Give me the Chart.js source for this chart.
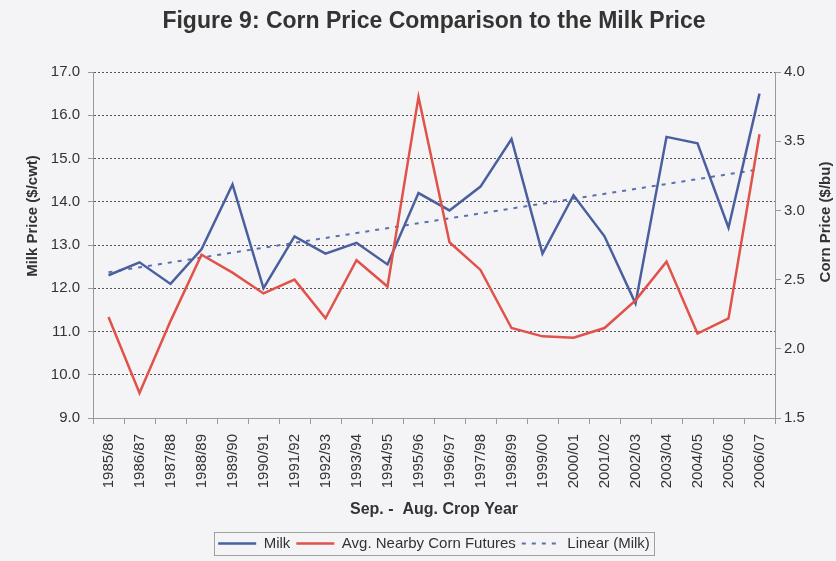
<!DOCTYPE html>
<html>
<head>
<meta charset="utf-8">
<script src="https://cdn.jsdelivr.net/npm/chart.js@4/dist/chart.umd.min.js"></script>
<style>
  html, body { margin: 0; padding: 0; background: #f4f4f6; }
  #wrap { width: 836px; height: 561px; }
</style>
</head>
<body>
<div id="wrap"><canvas id="chart" width="836" height="561"></canvas></div>
<script>
// crop years (Sep - Aug)
const cropYears = ['1985/86', '1986/87', '1987/88', '1988/89', '1989/90', '1990/91', '1991/92',
  '1992/93', '1993/94', '1994/95', '1995/96', '1996/97', '1997/98', '1998/99', '1999/00',
  '2000/01', '2001/02', '2002/03', '2003/04', '2004/05', '2005/06', '2006/07'];

// $/cwt, left axis
const milkPrice = [12.3, 12.6, 12.1, 12.9, 14.4, 12.0, 13.2, 12.8, 13.05, 12.55, 14.2,
  13.8, 14.35, 15.45, 12.8, 14.15, 13.2, 11.65, 15.5, 15.35, 13.4, 16.5];

// $/bu, right axis
const cornPrice = [2.23, 1.68, 2.2, 2.68, 2.55, 2.4, 2.5, 2.22, 2.64, 2.45, 3.82,
  2.77, 2.57, 2.15, 2.09, 2.08, 2.15, 2.35, 2.63, 2.11, 2.22, 3.55];

// linear trend of milk, read at first and last year
const milkTrend = [12.37, null, null, null, null, null, null, null, null, null, null,
  null, null, null, null, null, null, null, null, null, null, 14.75];

const milkTicks = [9, 10, 11, 12, 13, 14, 15, 16, 17];
const cornTicks = [1.5, 2.0, 2.5, 3.0, 3.5, 4.0];

const BLUE = '#4a5f9e';
const RED = '#e0524a';
const TEXT = '#333333';
const AXIS = '#9a9a9a';

Chart.defaults.font.family = '"Liberation Sans", Arial, sans-serif';
Chart.defaults.color = TEXT;

const bgPlugin = {
  id: 'bg',
  beforeDraw(chart) {
    const ctx = chart.ctx;
    ctx.save();
    ctx.fillStyle = '#f4f4f6';
    ctx.fillRect(0, 0, chart.width, chart.height);
    ctx.restore();
  }
};

// y axis titles sit a bit above the middle in the original
const sideTitles = {
  id: 'sideTitles',
  afterDraw(chart) {
    const ctx = chart.ctx;
    ctx.save();
    ctx.font = 'bold 15px "Liberation Sans", Arial, sans-serif';
    ctx.fillStyle = TEXT;
    ctx.textAlign = 'center';
    ctx.textBaseline = 'middle';
    [['Milk Price ($/cwt)', 33, 216], ['Corn Price ($/bu)', 826, 222]].forEach(t => {
      ctx.save();
      ctx.translate(t[1], t[2]);
      ctx.rotate(-Math.PI / 2);
      ctx.fillText(t[0], 0, 0);
      ctx.restore();
    });
    ctx.restore();
  }
};

// frame round the legend
const legendBox = {
  id: 'legendBox',
  afterDraw(chart) {
    const boxes = chart.legend && chart.legend.legendHitBoxes;
    if (!boxes || !boxes.length) return;
    let l = Infinity, r = -Infinity, t = Infinity, b = -Infinity;
    boxes.forEach(h => {
      l = Math.min(l, h.left); r = Math.max(r, h.left + h.width);
      t = Math.min(t, h.top); b = Math.max(b, h.top + h.height);
    });
    const ctx = chart.ctx;
    ctx.save();
    ctx.strokeStyle = '#a0a0a0';
    ctx.lineWidth = 1;
    ctx.strokeRect(Math.round(l - 4) + 0.5, Math.round(t - 4) + 0.5, Math.round(r - l + 8), Math.round(b - t + 8));
    ctx.restore();
  }
};

new Chart(document.getElementById('chart'), {
  type: 'line',
  data: {
    labels: cropYears,
    datasets: [
      {
        label: 'Milk',
        data: milkPrice,
        yAxisID: 'y',
        borderColor: BLUE,
        borderWidth: 2.5,
        pointRadius: 0,
        tension: 0,
        order: 1
      },
      {
        label: 'Avg. Nearby Corn Futures',
        data: cornPrice,
        yAxisID: 'y1',
        borderColor: RED,
        borderWidth: 2.5,
        pointRadius: 0,
        tension: 0,
        order: 0
      },
      {
        label: 'Linear (Milk)',
        data: milkTrend,
        yAxisID: 'y',
        borderColor: '#5a70ae',
        borderWidth: 2,
        borderDash: [4, 6],
        pointRadius: 0,
        spanGaps: true,
        order: 2
      }
    ]
  },
  options: {
    responsive: false,
    animation: false,
    layout: { padding: 0 },
    plugins: {
      title: {
        display: true,
        fullSize: false,
        text: 'Figure 9: Corn Price Comparison to the Milk Price',
        color: TEXT,
        font: { size: 23, weight: 'bold' },
        padding: { top: 8, bottom: 36.4 }
      },
      legend: {
        position: 'bottom',
        fullSize: false,
        labels: {
          usePointStyle: true,
          pointStyleWidth: 38,
          padding: 6,
          color: TEXT,
          font: { size: 15 },
          generateLabels(chart) {
            return chart.data.datasets.map((ds, i) => ({
              text: ds.label,
              strokeStyle: ds.borderColor,
              fillStyle: ds.borderColor,
              lineWidth: ds.borderWidth,
              lineDash: ds.borderDash || [],
              pointStyle: 'line',
              hidden: false,
              datasetIndex: i,
              fontColor: TEXT
            }));
          }
        }
      },
      tooltip: { enabled: false }
    },
    scales: {
      x: {
        type: 'category',
        offset: true,
        grid: {
          display: true,
          drawOnChartArea: false,
          drawTicks: true,
          tickLength: 6,
          color: AXIS,
          offset: true
        },
        border: { color: AXIS, width: 1 },
        ticks: {
          autoSkip: false,
          minRotation: 90,
          maxRotation: 90,
          padding: 10,
          color: TEXT,
          font: { size: 15 }
        },
        title: {
          display: true,
          text: 'Sep. -  Aug. Crop Year',
          color: TEXT,
          font: { size: 16, weight: 'bold' },
          padding: { top: 0, bottom: 11 }
        },
        afterFit(scale) { scale.height = 112; }
      },
      y: {
        position: 'left',
        min: milkTicks[0],
        max: milkTicks[milkTicks.length - 1],
        afterBuildTicks(scale) { scale.ticks = milkTicks.map(v => ({ value: v })); },
        grid: {
          color: '#555555',
          tickColor: AXIS,
          tickLength: 5,
          lineWidth: 1
        },
        border: { color: AXIS, width: 1, dash: [2, 2] },
        ticks: {
          padding: 8,
          color: TEXT,
          font: { size: 15 },
          callback: v => Number(v).toFixed(1)
        },
        afterFit(scale) { scale.width = 93; }
      },
      y1: {
        position: 'right',
        min: cornTicks[0],
        max: cornTicks[cornTicks.length - 1],
        afterBuildTicks(scale) { scale.ticks = cornTicks.map(v => ({ value: v })); },
        grid: {
          drawOnChartArea: false,
          color: AXIS,
          tickLength: 6
        },
        border: { color: AXIS, width: 1 },
        ticks: {
          padding: 3,
          color: TEXT,
          font: { size: 15 },
          callback: v => Number(v).toFixed(1)
        },
        afterFit(scale) { scale.width = 61; }
      }
    }
  },
  plugins: [bgPlugin, sideTitles, legendBox]
});
</script>
</body>
</html>
